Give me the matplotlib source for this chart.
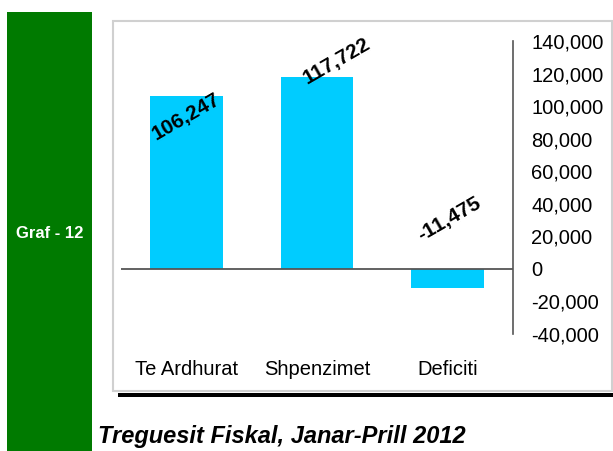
import matplotlib.pyplot as plt
from matplotlib.patches import Rectangle
from matplotlib.ticker import FuncFormatter

# values in million lek, Jan-Apr 2012
categories = ["Te Ardhurat", "Shpenzimet", "Deficiti"]
values = [106247, 117722, -11475]
# label offsets in pixels (Excel put them in odd places)
label_dx = [0, 20, 2]
label_dy = [-21, 16, 68]

plt.rcParams['font.family'] = ['Liberation Sans', 'DejaVu Sans']

fig = plt.figure(figsize=(6.13, 4.51), dpi=100)
W, H = 613, 451

def fx(px):
    return px / W

def fy(py):
    return 1 - py / H

# green side strip with the graph number
fig.patches.append(Rectangle((fx(7), 0), fx(92) - fx(7), fy(12), transform=fig.transFigure,
                             facecolor='#007a00', edgecolor='none', zorder=0))
fig.text(fx(49.5), fy(233), "Graf - 12", color='white', fontsize=12, fontweight='bold',
         ha='center', va='center')

# chart frame + black shadow line underneath
fig.patches.append(Rectangle((fx(113), fy(391)), fx(612) - fx(113), fy(21) - fy(391),
                             transform=fig.transFigure, facecolor='white',
                             edgecolor='#d0d0d0', lw=1.5, zorder=0))
fig.patches.append(Rectangle((fx(118), fy(397)), fx(614) - fx(118), fy(393) - fy(397),
                             transform=fig.transFigure, facecolor='black',
                             edgecolor='none', zorder=0))

ax = fig.add_axes([fx(121), fy(334), fx(513) - fx(121), fy(41) - fy(334)])
ax.set_zorder(2)
ax.patch.set_alpha(0)

x = list(range(len(categories)))
ax.bar(x, values, width=0.557, color='#00ccff', zorder=2)
ax.axhline(0, color='#555555', lw=1.3, zorder=3)

for i, v in enumerate(values):
    ax.annotate(f"{v:,}", (i, v), xytext=(label_dx[i], label_dy[i]),
                textcoords='offset pixels', ha='center', va='center',
                rotation=30, fontsize=15, fontweight='bold', zorder=4)

ax.set_xlim(-0.5, 2.5)
ax.set_ylim(-40000, 140000)
ax.set_yticks(range(-40000, 140001, 20000))
ax.yaxis.set_major_formatter(FuncFormatter(lambda v, p: f"{int(v):,}"))
ax.yaxis.tick_right()
ax.tick_params(axis='y', length=0, pad=13, labelsize=14.5)
for lbl in ax.get_yticklabels():
    lbl.set_horizontalalignment('left')

ax.set_xticks(x)
ax.set_xticklabels(categories)
ax.tick_params(axis='x', length=0, pad=19, labelsize=14.5)

for s in ['top', 'left', 'bottom']:
    ax.spines[s].set_visible(False)
ax.spines['right'].set_color('#555555')
ax.spines['right'].set_linewidth(1.2)

fig.text(fx(98), fy(443), "Treguesit Fiskal, Janar-Prill 2012", fontsize=17,
         style='italic', fontweight='bold', ha='left', va='baseline')

fig.savefig('out.png', dpi=100)
